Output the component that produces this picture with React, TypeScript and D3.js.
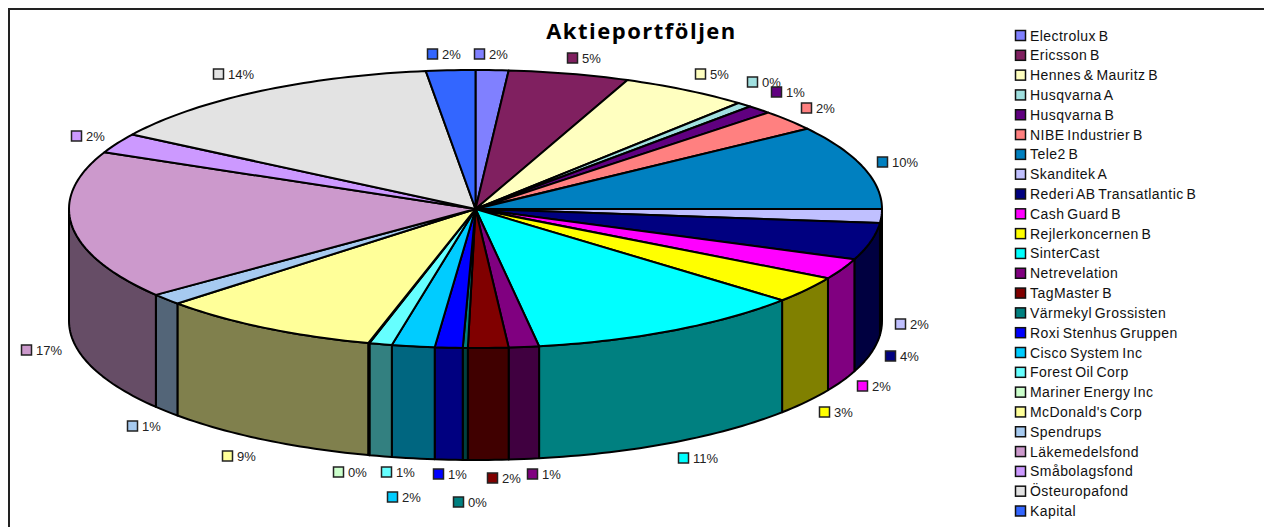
// App.tsx
import * as d3 from "d3";

const width = 1264;
const height = 527;

// holdings, in legend order
const names = [
  "Electrolux B", "Ericsson B", "Hennes & Mauritz B", "Husqvarna A", "Husqvarna B",
  "NIBE Industrier B", "Tele2 B", "Skanditek A", "Rederi AB Transatlantic B", "Cash Guard B",
  "Rejlerkoncernen B", "SinterCast", "Netrevelation", "TagMaster B", "Värmekyl Grossisten",
  "Roxi Stenhus Gruppen", "Cisco System Inc", "Forest Oil Corp", "Mariner Energy Inc", "McDonald's Corp",
  "Spendrups", "Läkemedelsfond", "Småbolagsfond", "Östeuropafond", "Kapital",
];
// slice sizes as they appear in the drawing
const shares = [
  1.3, 4.8, 5.1, 0.6, 1.0, 2.4, 9.8, 1.6, 4.3, 2.4, 3.1, 11.1, 1.2,
  1.6, 0.2, 1.1, 1.7, 0.9, 0.05, 8.85, 1.3, 17.3, 2.3, 14.05, 1.95,
];
// printed percentages
const percents = [2, 5, 5, 0, 1, 2, 10, 2, 4, 2, 3, 11, 1, 2, 0, 1, 2, 1, 0, 9, 1, 17, 2, 14, 2];
const colors = [
  "#8080ff", "#802060", "#ffffc0", "#a0e0e0", "#600080", "#ff8080", "#0080c0", "#c0c0ff", "#000080",
  "#ff00ff", "#ffff00", "#00ffff", "#800080", "#800000", "#008080", "#0000ff", "#00ccff", "#66ffff",
  "#ccffcc", "#ffff99", "#a6caf0", "#cc99cc", "#cc99ff", "#e3e3e3", "#3366ff",
];
// where each data label's key sits, left edge and middle
const labelSpots = [
  [474, 54], [567, 58], [695, 74], [747, 82], [771, 92], [801, 108], [877, 162], [895, 324], [885, 356],
  [857, 386], [819, 412], [678, 458], [527, 474], [487, 478], [453, 502], [433, 474], [387, 497], [381, 472],
  [333, 472], [222, 456], [127, 426], [21, 350], [71, 136], [213, 74], [427, 54],
];

// pie geometry
const cx = 475.5;
const cy = 209;
const rx = 406.5;
const ry = 139;
const depth = 112;

const pt = (a: number, dy = 0): [number, number] => [cx + rx * Math.sin(a), cy - ry * Math.cos(a) + dy];

// sample an elliptical rim between two angles
function rim(a0: number, a1: number, dy = 0) {
  const n = Math.max(2, Math.ceil((a1 - a0) / 0.02));
  return d3.range(n + 1).map((i) => pt(a0 + ((a1 - a0) * i) / n, dy));
}

const line = d3.line();

export default function App() {
  const slices = d3.pie<number>().sort(null).value((d) => d)(shares);
  const legendY = d3.scalePoint<number>().domain(d3.range(names.length)).range([35.5, 511]);

  return (
    <svg
      width={width}
      height={height}
      viewBox={`0 0 ${width} ${height}`}
      style={{ position: "absolute", left: 0, top: 0, background: "#fff" }}
      fontFamily="'Liberation Sans', Arial, sans-serif"
    >
      {/* chart frame runs off the page on the right and bottom */}
      <rect x={9} y={9} width={1300} height={600} fill="none" stroke="#222" strokeWidth={2} />

      <text x={641.5} y={39} textAnchor="middle" fontFamily="'Open Sans', sans-serif" fontWeight={700} fontSize={22} letterSpacing={1.5}>
        Aktieportföljen
      </text>

      {/* side wall, front half only */}
      {slices.map((s, i) => {
        const a0 = Math.max(s.startAngle, Math.PI / 2);
        const a1 = Math.min(s.endAngle, (3 * Math.PI) / 2);
        if (a1 <= a0) return null;
        const pts = [...rim(a0, a1), ...rim(a0, a1, depth).reverse()];
        const c = d3.rgb(colors[i]);
        const dark = d3.rgb(c.r / 2, c.g / 2, c.b / 2).formatHex();
        return <path key={i} d={line(pts) + "Z"} fill={dark} stroke="#000" strokeWidth={2} strokeLinejoin="round" />;
      })}

      {/* top face */}
      {slices.map((s, i) => {
        const pts = [[cx, cy] as [number, number], ...rim(s.startAngle, s.endAngle)];
        return <path key={i} d={line(pts) + "Z"} fill={colors[i]} stroke="#000" strokeWidth={2} strokeLinejoin="round" />;
      })}

      {/* data labels */}
      {percents.map((p, i) => (
        <g key={i}>
          <rect x={labelSpots[i][0] + 0.5} y={labelSpots[i][1] - 5} width={10} height={10} fill={colors[i]} stroke="#222" strokeWidth={1.5} />
          <text x={labelSpots[i][0] + 15} y={labelSpots[i][1] + 4.5} fontSize={13} fill="#222">
            {p}%
          </text>
        </g>
      ))}

      {/* legend */}
      {names.map((name, i) => (
        <g key={name}>
          <rect x={1015.5} y={legendY(i)! - 5} width={10} height={10} fill={colors[i]} stroke="#111" strokeWidth={1.5} />
          <text x={1030} y={legendY(i)! + 5} fontSize={14} letterSpacing={0.45} wordSpacing={-1.5} fill="#111">
            {name}
          </text>
        </g>
      ))}
    </svg>
  );
}
